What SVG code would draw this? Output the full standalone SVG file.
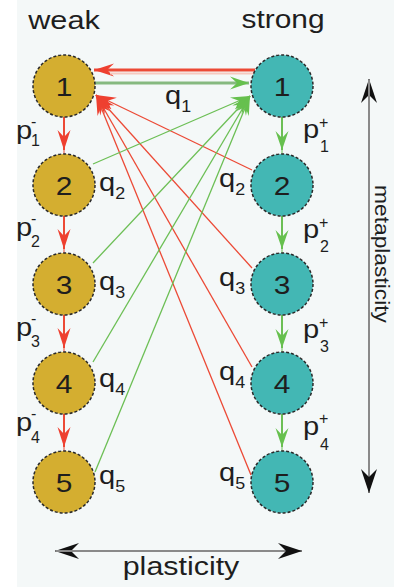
<svg xmlns="http://www.w3.org/2000/svg" width="394" height="587" viewBox="0 0 394 587">
<style>
text{font-family:"Liberation Sans",Arial,sans-serif;fill:#1e1e1e}
.num{font-size:26px;text-anchor:middle}
.lbl{font-size:26px}
.sub{font-size:16px}
.weak{fill:#d4ae30;stroke:#2a2a2a;stroke-width:1.5;stroke-dasharray:3 2}
.strong{fill:#43b7b4;stroke:#2a2a2a;stroke-width:1.5;stroke-dasharray:3 2}
.r{stroke:#ec4a36;fill:none}
.g{stroke:#6cbf55;fill:none}
.ax{stroke:#8a8a8a;stroke-width:2;fill:none}
</style>
<defs>
<marker id="ar" viewBox="-21 -8 22 16" markerWidth="22" markerHeight="16" refX="0" refY="0" orient="auto" markerUnits="userSpaceOnUse"><path d="M0,0 L-20,-6.5 L-13,0 L-20,6.5 Z" fill="#ee4030"/></marker>
<marker id="ag" viewBox="-21 -8 22 16" markerWidth="22" markerHeight="16" refX="0" refY="0" orient="auto" markerUnits="userSpaceOnUse"><path d="M0,0 L-19,-6.5 L-12,0 L-19,6.5 Z" fill="#66c04e"/></marker>
<marker id="ak" viewBox="-25 -9 26 18" markerWidth="26" markerHeight="18" refX="0" refY="0" orient="auto" markerUnits="userSpaceOnUse"><path d="M0,0 L-24,-8 L-16,0 L-24,8 Z" fill="#111"/></marker>
</defs>
<rect x="0" y="0" width="394" height="587" fill="#ffffff"/>
<rect x="17" y="0" width="377" height="587" fill="#f4f8f8"/>

<g id="connectors">
<line class="r" x1="255" y1="70" x2="94" y2="70" stroke-width="3" marker-end="url(#ar)"/>
<line x1="110" y1="73.5" x2="255" y2="73.5" stroke="#f6c9c0" stroke-width="2"/>
<line x1="95" y1="83" x2="249" y2="83" stroke="#86b980" stroke-width="3" marker-end="url(#ag)"/>
<line class="r" x1="252" y1="170" x2="96" y2="95" stroke-width="1.3" marker-end="url(#ar)"/>
<line class="r" x1="252" y1="268" x2="96" y2="95" stroke-width="1.3" marker-end="url(#ar)"/>
<line class="r" x1="252" y1="367" x2="96" y2="95" stroke-width="1.3" marker-end="url(#ar)"/>
<line class="r" x1="251" y1="475" x2="96" y2="95" stroke-width="1.3" marker-end="url(#ar)"/>
<line class="g" x1="93" y1="164" x2="250" y2="96" stroke-width="1.3" marker-end="url(#ag)"/>
<line class="g" x1="93" y1="263" x2="250" y2="96" stroke-width="1.3" marker-end="url(#ag)"/>
<line class="g" x1="93" y1="362" x2="250" y2="96" stroke-width="1.3" marker-end="url(#ag)"/>
<line class="g" x1="95" y1="472" x2="250" y2="96" stroke-width="1.3" marker-end="url(#ag)"/>
<line class="r" x1="64" y1="117" x2="64" y2="150" stroke-width="2" marker-end="url(#ar)"/>
<line class="r" x1="64" y1="216" x2="64" y2="249" stroke-width="2" marker-end="url(#ar)"/>
<line class="r" x1="64" y1="315" x2="64" y2="348" stroke-width="2" marker-end="url(#ar)"/>
<line class="r" x1="64" y1="414" x2="64" y2="447" stroke-width="2" marker-end="url(#ar)"/>
<line class="r" x1="64" y1="150" x2="64" y2="154" stroke-width="1"/>
<line class="r" x1="64" y1="249" x2="64" y2="253" stroke-width="1"/>
<line class="r" x1="64" y1="348" x2="64" y2="352" stroke-width="1"/>
<line class="r" x1="64" y1="447" x2="64" y2="451" stroke-width="1"/>
<line class="g" x1="282" y1="117" x2="282" y2="150" stroke-width="2" marker-end="url(#ag)"/>
<line class="g" x1="282" y1="216" x2="282" y2="249" stroke-width="2" marker-end="url(#ag)"/>
<line class="g" x1="282" y1="315" x2="282" y2="348" stroke-width="2" marker-end="url(#ag)"/>
<line class="g" x1="282" y1="414" x2="282" y2="447" stroke-width="2" marker-end="url(#ag)"/>
<line class="g" x1="282" y1="150" x2="282" y2="154" stroke-width="1"/>
<line class="g" x1="282" y1="249" x2="282" y2="253" stroke-width="1"/>
<line class="g" x1="282" y1="348" x2="282" y2="352" stroke-width="1"/>
<line class="g" x1="282" y1="447" x2="282" y2="451" stroke-width="1"/>
</g>

<g id="w1"><circle class="weak" cx="64" cy="86" r="31"/><text class="num" transform="translate(64 96) scale(1.15 1)">1</text></g>
<g id="w2"><circle class="weak" cx="64" cy="185" r="31"/><text class="num" transform="translate(64 195) scale(1.15 1)">2</text></g>
<g id="w3"><circle class="weak" cx="64" cy="284" r="31"/><text class="num" transform="translate(64 294) scale(1.15 1)">3</text></g>
<g id="w4"><circle class="weak" cx="64" cy="383" r="31"/><text class="num" transform="translate(64 393) scale(1.15 1)">4</text></g>
<g id="w5"><circle class="weak" cx="64" cy="482" r="31"/><text class="num" transform="translate(64 492) scale(1.15 1)">5</text></g>
<g id="s1"><circle class="strong" cx="282" cy="86" r="31"/><text class="num" transform="translate(282 96) scale(1.15 1)">1</text></g>
<g id="s2"><circle class="strong" cx="282" cy="185" r="31"/><text class="num" transform="translate(282 195) scale(1.15 1)">2</text></g>
<g id="s3"><circle class="strong" cx="282" cy="284" r="31"/><text class="num" transform="translate(282 294) scale(1.15 1)">3</text></g>
<g id="s4"><circle class="strong" cx="282" cy="383" r="31"/><text class="num" transform="translate(282 393) scale(1.15 1)">4</text></g>
<g id="s5"><circle class="strong" cx="282" cy="482" r="31"/><text class="num" transform="translate(282 492) scale(1.15 1)">5</text></g>

<g id="titles">
<text class="lbl" text-anchor="middle" transform="translate(64 29) scale(1.18 1)">weak</text>
<text class="lbl" text-anchor="middle" transform="translate(283 28) scale(1.15 1)">strong</text>
</g>

<g id="q-labels">
<text class="lbl" transform="translate(165 104) scale(1.12 1)">q<tspan class="sub" dy="8">1</tspan></text>
<text class="lbl" transform="translate(99 191) scale(1.12 1)">q<tspan class="sub" dy="8">2</tspan></text>
<text class="lbl" transform="translate(99 290) scale(1.12 1)">q<tspan class="sub" dy="8">3</tspan></text>
<text class="lbl" transform="translate(99 387) scale(1.12 1)">q<tspan class="sub" dy="8">4</tspan></text>
<text class="lbl" transform="translate(99 484) scale(1.12 1)">q<tspan class="sub" dy="8">5</tspan></text>
<text class="lbl" transform="translate(219 187) scale(1.12 1)">q<tspan class="sub" dy="8">2</tspan></text>
<text class="lbl" transform="translate(219 286) scale(1.12 1)">q<tspan class="sub" dy="8">3</tspan></text>
<text class="lbl" transform="translate(219 380) scale(1.12 1)">q<tspan class="sub" dy="8">4</tspan></text>
<text class="lbl" transform="translate(219 481) scale(1.12 1)">q<tspan class="sub" dy="8">5</tspan></text>
</g>

<g id="p-labels">
<text class="lbl" transform="translate(16 139) scale(1.12 1)">p</text><text class="sub" x="31" y="127">-</text><text class="sub" x="31" y="146">1</text>
<text class="lbl" transform="translate(16 236) scale(1.12 1)">p</text><text class="sub" x="31" y="224">-</text><text class="sub" x="31" y="247">2</text>
<text class="lbl" transform="translate(16 336) scale(1.12 1)">p</text><text class="sub" x="31" y="324">-</text><text class="sub" x="31" y="347">3</text>
<text class="lbl" transform="translate(16 431) scale(1.12 1)">p</text><text class="sub" x="31" y="419">-</text><text class="sub" x="31" y="443">4</text>
<text class="lbl" transform="translate(303 138) scale(1.12 1)">p</text><text class="sub" x="319" y="128">+</text><text class="sub" x="320" y="152">1</text>
<text class="lbl" transform="translate(303 238) scale(1.12 1)">p</text><text class="sub" x="319" y="228">+</text><text class="sub" x="320" y="252">2</text>
<text class="lbl" transform="translate(303 338) scale(1.12 1)">p</text><text class="sub" x="319" y="328">+</text><text class="sub" x="320" y="352">3</text>
<text class="lbl" transform="translate(303 435) scale(1.12 1)">p</text><text class="sub" x="319" y="424">+</text><text class="sub" x="320" y="450">4</text>
</g>

<g id="axes">
<line class="ax" x1="369" y1="492" x2="369" y2="79" marker-end="url(#ak)"/>
<line class="ax" x1="369" y1="80" x2="369" y2="493" marker-end="url(#ak)"/>
<line class="ax" x1="301" y1="551" x2="55" y2="551" marker-end="url(#ak)"/>
<line class="ax" x1="56" y1="551" x2="302" y2="551" marker-end="url(#ak)"/>
<text class="lbl" text-anchor="middle" textLength="138" lengthAdjust="spacingAndGlyphs" transform="translate(375 254) rotate(90)" style="font-size:20px">metaplasticity</text>
<text class="lbl" text-anchor="middle" transform="translate(181 575) scale(1.17 1)">plasticity</text>
</g>
</svg>
